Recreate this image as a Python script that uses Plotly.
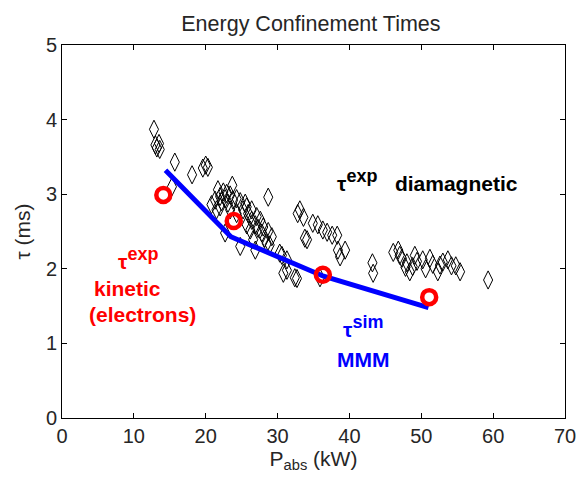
import plotly.graph_objects as go

# Diamagnetic experimental confinement times (black diamonds)
p_dia = [12.8, 13.2, 13.6, 13.0, 13.5, 15.7, 15.3, 18.1, 19.6, 20.0, 20.3,
         23.7, 21.7, 22.45, 22.9, 23.4, 22.0, 22.7, 21.3, 22.2, 23.1, 23.8, 24.3,
         24.8, 25.5, 25.2, 25.9, 26.4, 26.9, 27.3, 27.8, 28.2, 28.5, 28.9, 25.7,
         26.2, 22.7, 26.6, 20.8, 21.5, 22.0, 23.4, 24.3, 24.8, 26.9, 28.7, 25.7,
         26.4, 27.1, 27.6, 28.0, 28.7, 29.2, 31.3, 30.8, 32.7, 30.6, 32.4, 31.3,
         32.8, 33.1, 33.6, 33.8, 34.1, 34.9, 35.6, 36.3, 36.9, 37.6, 38.3, 38.4,
         39.4, 38.7, 35.9, 43.2, 43.3, 30.3,
         46.1, 46.8, 47.3, 48.0, 48.4, 49.1, 49.4, 50.2, 51.2, 51.6, 52.3, 53.0,
         53.7, 54.2, 55.4, 47.0, 47.8, 48.8, 50.6, 52.6, 54.8, 59.3]
tau_dia = [3.87, 3.62, 3.60, 3.66, 3.68, 3.43, 3.10, 3.26, 3.35, 3.39, 3.36,
           3.12, 3.06, 3.03, 3.01, 2.99, 2.97, 2.94, 2.92, 2.90, 2.88, 2.92, 2.94,
           2.90, 2.88, 2.79, 2.74, 2.65, 2.59, 2.54, 2.48, 2.41, 2.34, 2.32, 2.59,
           2.52, 2.48, 2.39, 2.86, 2.79, 2.83, 2.79, 2.74, 2.30, 2.25, 2.96, 2.83,
           2.79, 2.70, 2.65, 2.56, 2.50, 2.43, 2.12, 1.94, 1.87, 2.18, 1.88, 1.98,
           2.74, 2.79, 2.69, 2.41, 2.39, 2.61, 2.59, 2.52, 2.49, 2.45, 2.45, 2.25,
           2.25, 2.16, 1.88, 2.08, 1.94, 2.21,
           2.22, 2.25, 2.14, 2.08, 1.96, 2.18, 2.10, 2.12, 2.14, 2.06, 1.96, 2.09,
           2.12, 2.04, 1.96, 2.18, 2.02, 2.03, 2.00, 2.05, 2.04, 1.85]

# Kinetic (electrons) experimental confinement times (red circles)
p_kin = [14.1, 23.9, 36.3, 51.1]
tau_kin = [2.99, 2.64, 1.92, 1.62]

# Simulated MMM confinement times (blue line)
p_sim = [14.4, 23.5, 36.4, 51.0]
tau_sim = [3.32, 2.43, 1.90, 1.48]

x_ticks = [0, 10, 20, 30, 40, 50, 60, 70]
y_ticks = [0, 1, 2, 3, 4, 5]

FONT = "Arial, Liberation Sans, sans-serif"
TXT = "#262626"


def sup(s):
    return '<sup><span style="font-size:18px">' + s + '</span></sup>'


fig = go.Figure()
fig.add_trace(go.Scatter(
    x=p_dia, y=tau_dia, mode="markers",
    marker=dict(symbol="diamond-tall-open", size=13, color="black",
                line=dict(width=1, color="black")),
    showlegend=False, hoverinfo="skip"))
fig.add_trace(go.Scatter(
    x=p_sim, y=tau_sim, mode="lines",
    line=dict(color="#0000ff", width=5),
    showlegend=False, hoverinfo="skip"))
fig.add_trace(go.Scatter(
    x=p_kin, y=tau_kin, mode="markers",
    marker=dict(symbol="circle-open", size=14, color="#ff0000",
                line=dict(width=4.5, color="#ff0000")),
    showlegend=False, hoverinfo="skip"))

ann = [
    dict(x=38.2, y=3.19, text="<b>τ" + sup("exp") + "   diamagnetic</b>", color="black"),
    dict(x=7.7, y=2.14, text="<b>τ" + sup("exp") + "</b>", color="#ff0000"),
    dict(x=4.3, y=1.73, text="<b>kinetic</b>", color="#ff0000"),
    dict(x=3.6, y=1.39, text="<b>(electrons)</b>", color="#ff0000"),
    dict(x=39.0, y=1.22, text="<b>τ" + sup("sim") + "</b>", color="#0000ff"),
    dict(x=38.2, y=0.78, text="<b>MMM</b>", color="#0000ff"),
]
for a in ann:
    fig.add_annotation(x=a["x"], y=a["y"], text=a["text"], showarrow=False,
                       xanchor="left", yanchor="middle", borderpad=0,
                       font=dict(family=FONT, size=21, color=a["color"]))

axis_common = dict(showline=True, linecolor="black", linewidth=1, mirror="ticks",
                   ticks="inside", ticklen=5, tickcolor="black", showgrid=False,
                   zeroline=False, automargin=False, ticklabeloverflow="allow",
                   tickfont=dict(family=FONT, size=20, color=TXT))
fig.update_xaxes(range=[0, 70], tickvals=x_ticks,
                 title=dict(text="P<sub>abs</sub> (kW)", font=dict(family=FONT, size=21, color=TXT),
                            standoff=4),
                 **axis_common)
fig.update_yaxes(range=[0, 5], tickvals=y_ticks,
                 title=dict(text="τ (ms)", font=dict(family=FONT, size=21, color=TXT),
                            standoff=9),
                 **axis_common)
fig.update_layout(
    width=579, height=479,
    margin=dict(l=62, r=14, t=45, b=61),
    paper_bgcolor="white", plot_bgcolor="white",
    title=dict(text="Energy Confinement Times", x=0.537, xanchor="center", y=0.95, yanchor="middle",
               font=dict(family=FONT, size=21.5, color=TXT)),
)
fig.write_html("out.html", config={"displayModeBar": False},
               post_script="document.body.style.margin='0';document.body.style.overflow='hidden';")
